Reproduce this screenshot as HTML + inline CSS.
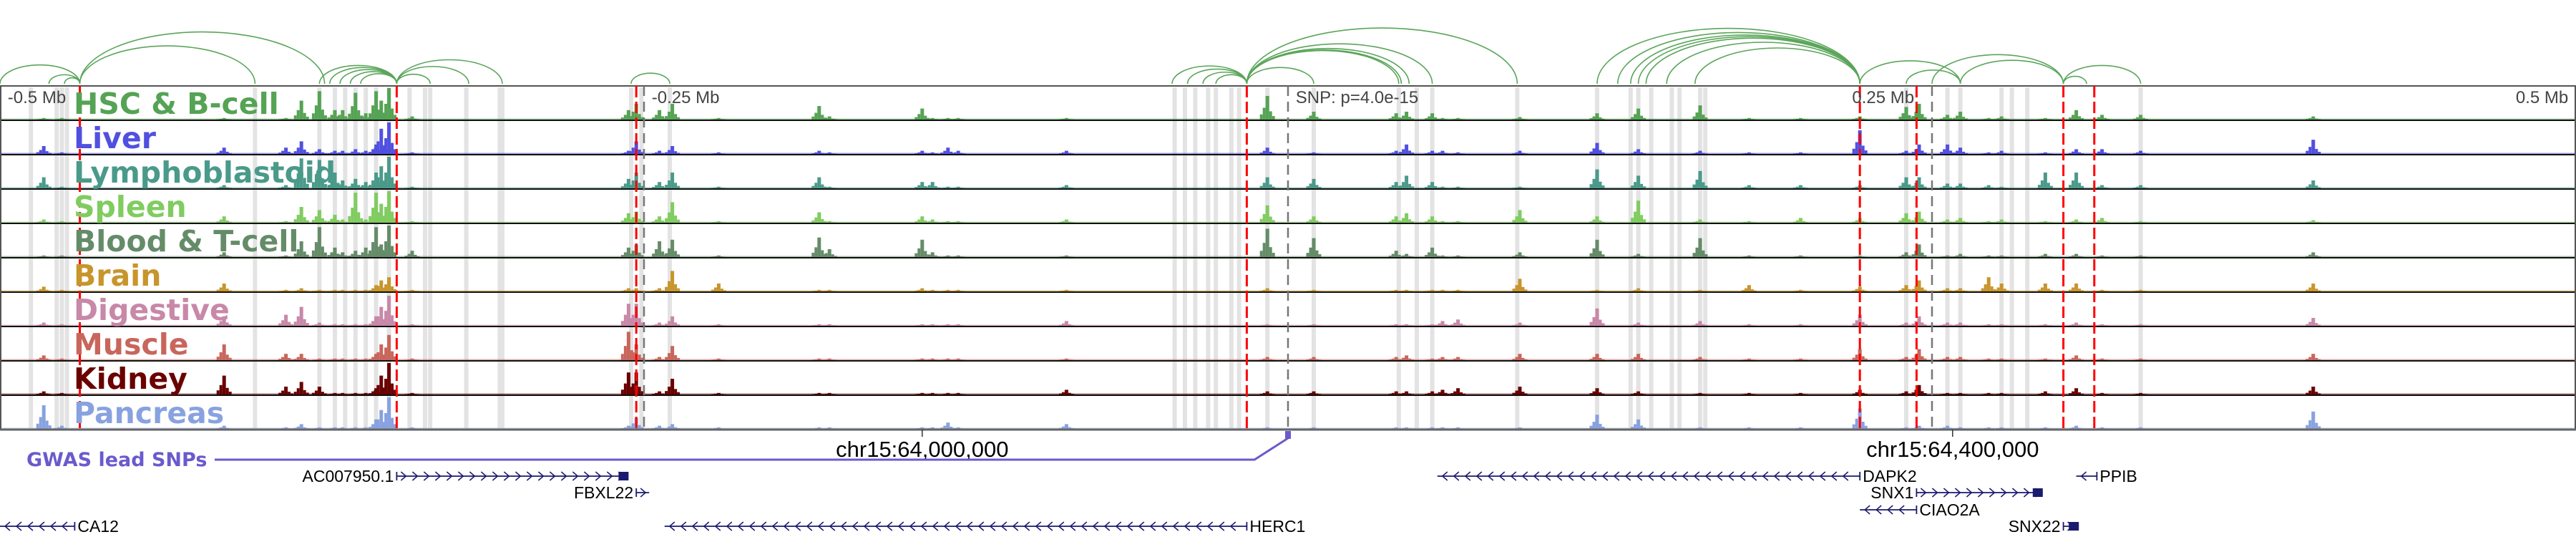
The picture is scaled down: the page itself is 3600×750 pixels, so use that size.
<!DOCTYPE html>
<html><head><meta charset="utf-8">
<style>
html,body{margin:0;padding:0;background:#fff;}
svg{display:block;font-family:"Liberation Sans","DejaVu Sans",sans-serif;}
</style></head>
<body>
<svg id="chart" width="3600" height="750" viewBox="0 0 3600 750" xmlns="http://www.w3.org/2000/svg">
<g id="bands"></g>
<g id="arcs" fill="none" stroke="#5aa55a" stroke-width="1.6"></g>
<g id="tracks"></g>
<g id="vlines"></g>
<g id="labels"></g>
<g id="axis"></g>
<g id="genes"></g>
</svg>
<script>
// ---------- data (genomic offsets in kb from lead SNP) ----------
const trackNames = ["HSC & B-cell","Liver","Lymphoblastoid","Spleen","Blood & T-cell","Brain","Digestive","Muscle","Kidney","Pancreas"];
const trackColors = ["#55a354","#5050e0","#4a9a8a","#80cc60","#658c68","#c8952c","#c888a8","#c8665c","#6a0000","#88a2e0"];
const peakKb = [-483,-476,-413,-389,-383,-376,-370,-367,-362,-358,-354,-352,-349,-340,-256,-253,-244,-239,-221,-182,-178,-142,-138,-132,-128,-86,-8,10,42,46,56,60,66,90,120,136,160,179,199,222,240,245,256,261,272,277,294,306,316,331,398];
const peakHeights = [
 [0.05,0.05,0.05,0.05,0.6,0.9,0.3,0.3,0.85,0.2,0.9,0.6,1.0,0.1,0.3,0.5,0.3,0.5,0.05,0.43,0.1,0.35,0.05,0.05,0.05,0.05,0.75,0.25,0.2,0.25,0.2,0.05,0.05,0.08,0.2,0.35,0.45,0.05,0.05,0.1,0.4,0.5,0.15,0.25,0.05,0.1,0.05,0.3,0.15,0.15,0.1],
 [0.25,0.05,0.2,0.2,0.4,0.15,0.1,0.1,0.15,0.1,0.3,0.8,1.0,0.05,0.1,0.4,0.1,0.25,0.05,0.1,0.05,0.1,0.05,0.2,0.1,0.1,0.2,0.05,0.1,0.3,0.1,0.1,0.05,0.1,0.35,0.15,0.1,0.05,0.05,0.75,0.1,0.3,0.3,0.2,0.05,0.1,0.05,0.15,0.15,0.1,0.45],
 [0.35,0.05,0.1,0.1,0.95,0.9,0.5,0.25,0.3,0.2,0.5,0.7,1.0,0.05,0.3,0.5,0.2,0.5,0.05,0.35,0.05,0.2,0.2,0.05,0.05,0.1,0.35,0.3,0.2,0.4,0.2,0.05,0.05,0.05,0.6,0.4,0.55,0.1,0.1,0.1,0.35,0.35,0.15,0.15,0.1,0.05,0.5,0.5,0.1,0.1,0.25],
 [0.1,0.05,0.2,0.05,0.5,0.4,0.25,0.1,0.95,0.1,0.95,0.6,1.0,0.05,0.3,0.35,0.2,0.65,0.05,0.33,0.05,0.2,0.1,0.05,0.05,0.1,0.55,0.2,0.2,0.3,0.2,0.05,0.05,0.4,0.2,0.7,0.1,0.05,0.15,0.15,0.3,0.35,0.1,0.15,0.05,0.1,0.05,0.1,0.15,0.05,0.08],
 [0.05,0.05,0.15,0.05,0.5,0.95,0.3,0.15,0.2,0.3,0.95,0.4,1.0,0.2,0.3,0.4,0.5,0.55,0.05,0.62,0.25,0.55,0.15,0.05,0.05,0.05,0.9,0.6,0.2,0.1,0.3,0.05,0.05,0.15,0.55,0.1,0.6,0.05,0.05,0.05,0.15,0.4,0.05,0.1,0.05,0.05,0.1,0.1,0.05,0.05,0.15],
 [0.15,0.05,0.25,0.05,0.1,0.05,0.05,0.05,0.05,0.05,0.2,0.35,0.45,0.05,0.1,0.1,0.1,0.65,0.25,0.05,0.05,0.1,0.05,0.05,0.05,0.05,0.1,0.05,0.05,0.05,0.05,0.05,0.05,0.4,0.05,0.1,0.05,0.2,0.05,0.15,0.2,0.35,0.1,0.1,0.45,0.25,0.25,0.25,0.05,0.05,0.25],
 [0.1,0.05,0.3,0.35,0.6,0.1,0.05,0.05,0.05,0.05,0.3,0.6,0.95,0.05,0.7,0.7,0.1,0.3,0.05,0.05,0.05,0.05,0.05,0.05,0.05,0.15,0.05,0.05,0.05,0.05,0.05,0.15,0.2,0.1,0.55,0.1,0.15,0.05,0.05,0.35,0.1,0.3,0.1,0.1,0.05,0.05,0.05,0.1,0.05,0.05,0.25],
 [0.15,0.05,0.5,0.2,0.2,0.05,0.05,0.05,0.05,0.05,0.2,0.5,0.8,0.05,0.9,0.5,0.1,0.45,0.05,0.05,0.05,0.05,0.05,0.05,0.05,0.05,0.1,0.1,0.1,0.15,0.05,0.1,0.1,0.2,0.2,0.2,0.1,0.05,0.05,0.35,0.1,0.35,0.1,0.1,0.05,0.05,0.05,0.15,0.05,0.05,0.2],
 [0.1,0.05,0.6,0.25,0.4,0.25,0.05,0.05,0.05,0.05,0.2,0.6,1.0,0.05,0.7,0.7,0.1,0.5,0.05,0.05,0.05,0.05,0.05,0.05,0.05,0.15,0.1,0.1,0.1,0.1,0.1,0.15,0.2,0.25,0.2,0.1,0.05,0.05,0.05,0.15,0.1,0.3,0.05,0.05,0.05,0.05,0.1,0.2,0.05,0.05,0.25],
 [0.75,0.1,0.1,0.05,0.15,0.05,0.05,0.05,0.05,0.05,0.3,0.6,1.0,0.05,0.1,0.35,0.1,0.15,0.05,0.05,0.05,0.05,0.05,0.2,0.05,0.15,0.05,0.05,0.05,0.05,0.05,0.05,0.05,0.05,0.45,0.3,0.05,0.05,0.05,0.65,0.05,0.1,0.1,0.05,0.05,0.05,0.05,0.1,0.05,0.05,0.55]
];
const bandKb = [-488,-478,-476,-474,-401,-376,-370,-366,-362,-358,-354,-349,-341,-335,-333,-319,-306,-305,-255,-251,-240,-44,-40,-36,-31,-28,-22,-19,-8,10,43,50,56,89,120,133,136,141,149,152,160,162,240,256,261,277,281,287,331];
const arcFrom = [-500,-481,-475,-469,-469,-376,-372,-368,-364,-360,-346,-346,-346,-255,-45,-39,-33,-28,-16,-16,-16,-16,-16,-16,120,128,133,136,139,147,158,222,240,261,250,301,301];
const arcTo   = [-469,-469,-469,-374,-401,-346,-346,-346,-346,-346,-318,-305,-333,-240,-16,-16,-16,-16,10,89,43,47,56,44,222,222,222,222,222,222,222,261,261,301,301,331,310];
const redSnpKb = [-469,-346,-253,-16,222,244,301,313];
const leadKb = [-250,0,250];
const axisLabels = ["-0.5 Mb","-0.25 Mb","SNP: p=4.0e-15","0.25 Mb","0.5 Mb"];
const axisKb = [-497,-247,3,219,497];
const chrTicksKb = [-142,258];
const chrTickLabels = ["chr15:64,000,000","chr15:64,400,000"];
const geneNames = ["AC007950.1","FBXL22","CA12","HERC1","DAPK2","SNX1","CIAO2A","PPIB","SNX22"];
const geneStart = [-346,-253,-500,-242,58,244,222,306,301];
const geneEnd   = [-256,-248,-471,-16,222,293,244,314,307];
const geneStrand = [1,1,-1,-1,-1,1,-1,-1,1];
const geneRow = [0,1,3,3,0,1,2,0,3];

// ---------- scales ----------
const X0 = 1800, PXKB = 3.6;
const xs = kb => X0 + kb*PXKB;
const TOP = 120, TH = 48, MAXH = 44;
const NS = "http://www.w3.org/2000/svg";
function mk(tag, attrs, parent){const e=document.createElementNS(NS,tag);for(const k in attrs)e.setAttribute(k,attrs[k]);parent.appendChild(e);return e;}

// bands
const bands = document.getElementById('bands');
bandKb.forEach((kb)=>{
  const r = mk('rect',{x:xs(kb)-3,y:TOP+2,width:6,height:TH*10-4,fill:'#e3e3e3'},bands);
  
  
});

// arcs
const arcs = document.getElementById('arcs');
arcFrom.forEach((a,i)=>{
  const x1=xs(a), x2=xs(arcTo[i]);
  const rx=Math.abs(x2-x1)/2, ry=Math.min(78, rx*0.4+4);
  const p = mk('path',{d:`M${x1},117 A${rx},${ry} 0 0 1 ${x2},117`},arcs);
  
  
});

// tracks
const tracks = document.getElementById('tracks');
trackNames.forEach((nm,t)=>{
  const g = mk('g',{},tracks);
  
  
  const base = TOP + (t+1)*TH - 1;
  const col = trackColors[t];
  mk('rect',{x:0,y:base-1.5,width:3600,height:1.5,fill:col,opacity:0.55},g);
  peakHeights[t].forEach((h,i)=>{
    const cx = xs(peakKb[i]);
    const H = h*MAXH;
    const b = mk('rect',{x:cx-2.5,y:base-H,width:5,height:H,fill:col},g);
    
    
    mk('rect',{x:cx-6.5,y:base-H*0.5,width:4,height:H*0.5,fill:col},g);
    mk('rect',{x:cx-10.5,y:base-H*0.22,width:4,height:H*0.22,fill:col},g);
    mk('rect',{x:cx+2.5,y:base-H*0.35,width:4,height:H*0.35,fill:col},g);
    mk('rect',{x:cx+6.5,y:base-H*0.15,width:4,height:H*0.15,fill:col},g);
  });
  mk('line',{x1:0,x2:3600,y1:base+1,y2:base+1,stroke:'#111','stroke-width':2},g);
});
mk('line',{x1:0,x2:3600,y1:TOP,y2:TOP,stroke:'#555','stroke-width':2},tracks);
mk('line',{x1:1,x2:1,y1:TOP,y2:TOP+TH*10,stroke:'#555','stroke-width':2},tracks);
mk('line',{x1:3599,x2:3599,y1:TOP,y2:TOP+TH*10,stroke:'#555','stroke-width':2},tracks);
mk('line',{x1:0,x2:3600,y1:TOP+TH*10,y2:TOP+TH*10,stroke:'#666','stroke-width':3},tracks);

// vertical lines
const vl = document.getElementById('vlines');
redSnpKb.forEach(kb=>{
  const l=mk('line',{x1:xs(kb),x2:xs(kb),y1:TOP,y2:TOP+TH*10,stroke:'#ff0000','stroke-width':3,'stroke-dasharray':'16,6'},vl);
  
  
});
leadKb.forEach(kb=>{
  const l=mk('line',{x1:xs(kb),x2:xs(kb),y1:TOP,y2:TOP+TH*10,stroke:'#777','stroke-width':2.5,'stroke-dasharray':'14,8'},vl);
  
  
});

// labels
const labels = document.getElementById('labels');
trackNames.forEach((nm,t)=>{
  const tx = mk('text',{x:103,y:TOP+t*TH+39,fill:trackColors[t],'font-size':41,'font-weight':'bold','font-family':'"DejaVu Sans","Liberation Sans",sans-serif'},labels);
  tx.textContent = nm;
  
  
});

// axis
const axis = document.getElementById('axis');
axisLabels.forEach((s,i)=>{
  const anchor = i===4?'end':'start';
  const tx = mk('text',{x:xs(axisKb[i]),y:144,'font-size':24,fill:'#444','text-anchor':anchor},axis);
  tx.textContent = s;
  
  
});
chrTicksKb.forEach((kb,i)=>{
  mk('line',{x1:xs(kb),x2:xs(kb),y1:600,y2:610,stroke:'#333','stroke-width':1.5},axis);
  const tx = mk('text',{x:xs(kb),y:638,'font-size':31,fill:'#000','text-anchor':'middle'},axis);
  tx.textContent = chrTickLabels[i];
  
  
});

// GWAS
const genes = document.getElementById('genes');
const gw = mk('text',{x:37,y:651,'font-size':27,'font-weight':'bold',fill:'#6a5acd','font-family':'"DejaVu Sans","Liberation Sans",sans-serif'},genes);
gw.textContent='GWAS lead SNPs';


const gl = mk('path',{d:`M300,642 L${xs(-13)},642 L${xs(0)},612`,fill:'none',stroke:'#6a5acd','stroke-width':3},genes);


const gm = mk('rect',{x:xs(0)-4,y:602,width:8,height:11,fill:'#6a5acd'},genes);



// genes
const rowY = [665,688,712,735];
geneNames.forEach((nm,i)=>{
  const g = mk('g',{},genes);
  
  
  const x1=xs(geneStart[i]), x2=xs(geneEnd[i]), y=rowY[geneRow[i]];
  mk('line',{x1:x1,x2:x2,y1:y,y2:y,stroke:'#1a1a6e','stroke-width':1.8},g);
  mk('line',{x1:geneStrand[i]>0?x1:x2,x2:geneStrand[i]>0?x1:x2,y1:y-6,y2:y+6,stroke:'#1a1a6e','stroke-width':1.8},g);
  let d='';
  for(let x=x1+10;x<x2-6;x+=16){
    d += geneStrand[i]>0 ? `M${x-4},${y-6} L${x+3},${y} L${x-4},${y+6} ` : `M${x+4},${y-6} L${x-3},${y} L${x+4},${y+6} `;
  }
  if(d) mk('path',{d:d,fill:'none',stroke:'#1a1a6e','stroke-width':1.5},g);
  if(geneStrand[i]>0 && x2-x1>20) mk('rect',{x:x2-14,y:y-6,width:14,height:12,fill:'#1a1a6e'},g);
  const labelRight = geneStrand[i]<0;
  const tx = mk('text',{x:labelRight?x2+4:x1-4,y:y+8,'font-size':23,fill:'#000','text-anchor':labelRight?'start':'end'},g);
  tx.textContent = nm;
});
</script>
</body></html>
